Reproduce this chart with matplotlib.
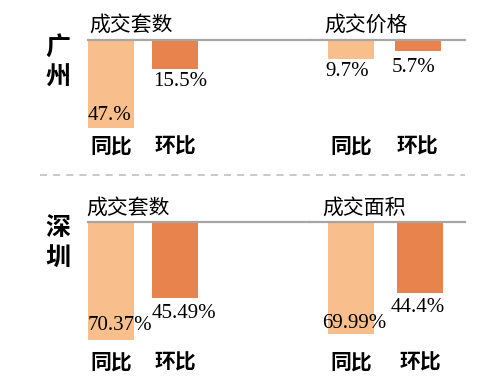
import matplotlib
matplotlib.use('Agg')
import matplotlib.pyplot as plt
from matplotlib.lines import Line2D

# ---- data ---------------------------------------------------------------
cities = ['广州', '深圳']
bar_labels = ['同比', '环比']
gz_titles = ['成交套数', '成交价格']
sz_titles = ['成交套数', '成交面积']
gz_count = [47.0, 15.5]
gz_price = [9.7, 5.7]
sz_count = [70.37, 45.49]
sz_area = [69.99, 44.4]
gz_count_txt = ['47.%', '15.5%']
gz_price_txt = ['9.7%', '5.7%']
sz_count_txt = ['70.37%', '45.49%']
sz_area_txt = ['69.99%', '44.4%']

# ---- layout (pixels, origin top-left) ----------------------------------
W, H = 500, 382
CJK = ['Noto Sans CJK SC', 'DejaVu Sans']
NUM = ['Liberation Serif', 'DejaVu Serif']
LIGHT = '#F8BE8C'
DARK = '#E8834E'
LINE = '#A6A6A6'


def px_rect(l, t, r, b):
    return [l / W, 1 - b / H, (r - l) / W, (b - t) / H]


# rows: (line y, axes bottom, city char y centres, title y)
rows = [(40, 134, (48, 78), 25), (222, 350, (228, 258), 208)]
# panels per row: (left px, right px, bar centres, px per %, title x, label ha)
panels = [
    [(88, 310, [111, 175], 1.87, 89, 'left'),
     (310, 465, [351, 417.5], 1.95, 324, 'center')],
    [(88, 310, [111, 175], 1.68, 86, 'left'),
     (310, 465, [351, 420], 1.60, 322, 'center')],
]
values = [[gz_count, gz_price], [sz_count, sz_area]]
texts = [[gz_count_txt, gz_price_txt], [sz_count_txt, sz_area_txt]]
titles = [gz_titles, sz_titles]
# value-label offsets in px: (dx, dy) from bar bottom (dy > 0 means lower)
offsets = [
    [[(0, -12), (1, 13)], [(-4, 13), (-4, 16)]],
    [[(0, -15), (0, 15)], [(3, -10), (-2, 14)]],
]
bar_w = 46

fig = plt.figure(figsize=(W / 100, H / 100), dpi=100)

for r, (top, bottom, city_y, title_y) in enumerate(rows):
    for c, (left, right, centres, scale, title_x, ha) in enumerate(panels[r]):
        ax = fig.add_axes(px_rect(left, top, right, bottom))
        vals = values[r][c]
        ax.bar(centres, vals, width=bar_w, color=[LIGHT, DARK])
        ax.set_xlim(left, right)
        ax.set_ylim((bottom - top) / scale, 0)
        for s in ['left', 'right', 'bottom']:
            ax.spines[s].set_visible(False)
        ax.spines['top'].set_color(LINE)
        ax.spines['top'].set_linewidth(1.6)
        ax.set_yticks([])
        ax.set_xticks(centres, bar_labels)
        ax.tick_params(axis='x', length=0, pad=1)
        for lab in ax.get_xticklabels():
            lab.set_family(CJK)
            lab.set_fontsize(15)
            lab.set_fontweight('bold')
        for i, v in enumerate(vals):
            dx, dy = offsets[r][c][i]
            x = centres[i] - bar_w / 2 if ha == 'left' else centres[i]
            ax.annotate(texts[r][c][i], (x, v), xytext=(dx, -dy),
                        textcoords='offset pixels', ha=ha, va='center',
                        family=NUM, fontsize=15, annotation_clip=False)
        fig.text(title_x / W, 1 - title_y / H, titles[r][c], ha='left',
                 va='center', family=CJK, fontsize=15)
    for ch, y in zip(cities[r], city_y):
        fig.text(58 / W, 1 - y / H, ch, ha='center', va='center',
                 family=CJK, fontsize=18, fontweight='heavy')

# dashed separator between the two cities
fig.add_artist(Line2D([40 / W, 465 / W], [1 - 175 / H] * 2,
                      transform=fig.transFigure, color='#BBBBBB', lw=1.1,
                      ls=(0, (4.6, 4))))

fig.savefig('out.png', dpi=100)
